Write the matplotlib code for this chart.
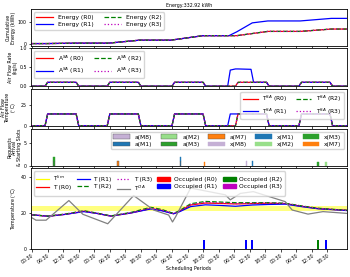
import matplotlib
matplotlib.use("Agg")
import matplotlib.pyplot as plt
from matplotlib.lines import Line2D
from matplotlib.patches import Patch

# ---- data (hours from start) ----
e_t = [0, 5.5, 17.5, 29.5, 41.5, 53.5, 66, 76, 79, 85, 91, 103.5, 115.5, 121.5]
energy_r0 = [0, 0, 2, 2, 16, 16, 37, 37, 37, 47, 57, 57, 68, 68]
energy_r1 = [0, 0, 2, 2, 16, 16, 37, 37, 55, 97, 106, 106, 118, 118]
energy_r2 = [0, 0, 2, 2, 16, 16, 37, 37, 37, 47, 57, 57, 68, 68]
energy_r3 = [0, 0, 2, 2, 16, 16, 37, 37, 37, 47, 57, 57, 68, 68]

s_t = [0, 5, 6, 17, 18, 29, 30, 41, 42, 54, 55, 66, 67, 75.5, 76.5, 78.5, 79.5,
       84.5, 85.5, 90.5, 91.5, 103, 104, 115, 116, 121.5]
flow_r0 = [0, 0, .1, .1, 0, 0, .1, .1, 0, 0, .1, .1, 0, 0, 0, 0, .1, .1, .1, .1, 0, 0, .1, .1, 0, 0]
flow_r1 = [0, 0, .1, .1, 0, 0, .1, .1, 0, 0, .1, .1, 0, 0, .42, .45, .45, .44, .1, .1, 0, 0, .1, .1, 0, 0]
flow_r2 = flow_r0
flow_r3 = flow_r0
tsa_r0 = [0, 0, 14, 14, 0, 0, 14, 14, 0, 0, 14, 14, 0, 0, 0, 0, 14, 14, 14, 14, 0, 0, 14, 14, 0, 0]
tsa_r1 = [0, 0, 14, 14, 0, 0, 14, 14, 0, 0, 14, 14, 0, 0, 14, 14, 14, 14, 14, 14, 0, 0, 14, 14, 0, 0]
tsa_r2 = tsa_r0
tsa_r3 = tsa_r0

# request bars
req_t = [8.5, 8.5, 33.1, 57.3, 57.3, 66.5, 82.7, 85.0, 110.4, 113.5]
req_lab = ["a(M3)", "x(M3)", "a(M7)", "a(M1)", "x(M1)", "x(M7)", "x(M8)", "x(M1)", "x(M3)", "x(M2)"]
req_h = [1, 1, 1, 1, 1, 0.8, 1, 1, 0.8, 0.8]
req_b = [0, 1, 0, 0, 1, 0, 0, 0, 0, 0]
req_names = ["a(M8)", "a(M1)", "a(M2)", "a(M3)", "a(M7)", "x(M8)", "x(M1)", "x(M2)", "x(M3)", "x(M7)"]
req_cols = {"M8": "#c5b0d5", "M1": "#1f77b4", "M2": "#98df8a", "M3": "#2ca02c", "M7": "#ff7f0e"}

t_t = [0, 6.2, 13, 20, 25, 30.4, 38, 45.8, 50, 54.6, 57, 61.2, 66.9, 72, 78.5, 85, 91, 97.7, 104, 110.4, 116, 121.5]
temp_r0 = [19, 18.2, 19.3, 21, 19.8, 18.3, 20, 22.5, 21.5, 19.6, 21.0, 24.5, 25.6, 25.4, 25.1, 25.3, 25.5, 25.3, 23.8, 22.5, 22, 21.5]
temp_r1 = [19, 18.2, 19.3, 20.8, 19.8, 18.3, 20, 22.3, 21.3, 19.6, 20.8, 23.6, 24.6, 24.3, 23.8, 24.5, 24.8, 25.0, 23.6, 22.4, 21.9, 21.4]
temp_r2 = [19, 18.3, 19.5, 21.3, 20, 18.4, 20.3, 23.2, 22, 19.8, 21.4, 25.2, 26.5, 26.2, 25.8, 25.8, 25.8, 25.5, 24, 22.7, 22.1, 21.6]
temp_r3 = [19, 18.2, 19.4, 21.1, 19.9, 18.3, 20.1, 22.8, 21.7, 19.7, 21.2, 24.8, 25.9, 25.7, 25.3, 25.5, 25.6, 25.4, 23.9, 22.6, 22, 21.5]
oa_t = [0, 1.5, 5.4, 14.2, 19.6, 29.2, 39.2, 46.9, 52.7, 54.2, 55.4, 61.2, 74.6, 76.5, 80.4, 85.4, 97.7, 100.4, 106.5, 112.3, 121.5]
temp_oa = [17.3, 16, 16, 27, 19.3, 14, 29.8, 21.7, 18.9, 15, 17.9, 34, 30.2, 27.4, 31, 32, 26.4, 21.7, 19.4, 20.8, 19.8]
t_lim = [21, 24]

occ_t = [66.5, 82.7, 85.0, 110.4, 113.5]
occ_room = ["R1", "R1", "R1", "R2", "R1"]
occ_h = 5
occ_cols = {"R0": "red", "R1": "blue", "R2": "green", "R3": "m"}

tick_pos = list(range(0, 120, 6))
tick_lab = ["00:30", "06:30", "12:30", "18:30"] * 5

fs = 3.4
lfs = 4.3
plt.rcParams.update({"font.size": fs, "axes.linewidth": 0.6,
                     "xtick.major.size": 1.8, "ytick.major.size": 1.8,
                     "xtick.major.width": 0.5, "ytick.major.width": 0.5,
                     "xtick.major.pad": 1, "ytick.major.pad": 1,
                     "axes.labelpad": 1.2,
                     "legend.fontsize": lfs, "legend.handlelength": 2.8,
                     "legend.columnspacing": 1.8, "legend.borderpad": 0.4,
                     "legend.labelspacing": 0.35})

fig = plt.figure(figsize=(3.5, 2.77), dpi=100)
L, R = 0.088, 0.991
ax1 = fig.add_axes([L, 0.835, R - L, 0.131])
ax2 = fig.add_axes([L, 0.689, R - L, 0.138])
ax3 = fig.add_axes([L, 0.546, R - L, 0.134])
ax4 = fig.add_axes([L, 0.402, R - L, 0.132])
ax5 = fig.add_axes([L, 0.102, R - L, 0.290])
axes = [ax1, ax2, ax3, ax4, ax5]

lw = 0.9
def four(ax, t, ys, name):
    ax.plot(t, ys[0], color="red", lw=lw, label=name + " (R0)")
    ax.plot(t, ys[1], color="blue", lw=lw, label=name + " (R1)")
    ax.plot(t, ys[2], color="green", lw=lw, ls="--", label=name + " (R2)")
    ax.plot(t, ys[3], color="m", lw=lw, ls=":", label=name + " (R3)")

four(ax1, e_t, [energy_r0, energy_r1, energy_r2, energy_r3], "Energy")
ax1.set_ylim(-10, 160)
ax1.set_yticks([0, 100])
ax1.set_ylabel("Cumulative\nEnergy (kWh)", linespacing=1.0)
ax1.legend(loc="upper left", ncol=2)
ax1.set_title("Energy:332.92 kWh", fontsize=fs, pad=2)

four(ax2, s_t, [flow_r0, flow_r1, flow_r2, flow_r3], "A$^{SA}$")
ax2.set_ylim(0, 1.0)
ax2.set_yticks([0.0, 0.5, 1.0])
ax2.set_ylabel("Air Flow Rate\n(kg/s)", linespacing=1.0)
ax2.legend(loc="upper left", ncol=2)

four(ax3, s_t, [tsa_r0, tsa_r1, tsa_r2, tsa_r3], "T$^{SA}$")
ax3.set_ylim(0, 44)
ax3.set_yticks([0, 25])
ax3.set_ylabel("Air Flow\nTemperature\n($^{\\circ}$C)", linespacing=0.95)
ax3.legend(loc="upper right", ncol=2, columnspacing=1.4, handlelength=2.5)

for t, lab, h, b in zip(req_t, req_lab, req_h, req_b):
    c = req_cols[lab[2:4]]
    ax4.bar(t, h, bottom=b, width=0.6, color=c, edgecolor="#555555" if lab[0] == "a" else c, lw=0.3)
handles = []
for n in req_names:
    c = req_cols[n[2:4]]
    handles.append(Patch(facecolor=c, edgecolor="#555555" if n[0] == "a" else c, lw=0.3, label=n))
ax4.legend(handles=handles, loc="upper right", ncol=5, columnspacing=1.4)
ax4.set_ylim(0, 8)
ax4.set_yticks([0, 5])
ax4.set_ylabel("Requests\nArrival\n& Starting Slots", linespacing=0.95)

ax5.fill_between([-0.5, 121.5], t_lim[0], t_lim[1], color="yellow", alpha=0.5, lw=0)
four(ax5, t_t, [temp_r0, temp_r1, temp_r2, temp_r3], "T")
ax5.plot(oa_t, temp_oa, color="gray", lw=lw)
for t, r in zip(occ_t, occ_room):
    ax5.bar(t, occ_h, width=0.8, color=occ_cols[r])
h5 = [Line2D([], [], color="yellow", lw=lw, label="T$^{lim}$"),
      Line2D([], [], color="red", lw=lw, label="T (R0)"),
      Line2D([], [], color="blue", lw=lw, label="T (R1)"),
      Line2D([], [], color="green", lw=lw, ls="--", label="T (R2)"),
      Line2D([], [], color="m", lw=lw, ls=":", label="T (R3)"),
      Line2D([], [], color="gray", lw=lw, label="T$^{OA}$")]
for r in ["R0", "R1", "R2", "R3"]:
    h5.append(Patch(color=occ_cols[r], label="Occupied (%s)" % r))
ax5.legend(handles=h5, loc="upper left", ncol=5, columnspacing=0.9, handlelength=2.2,
           handletextpad=0.6)
ax5.set_ylim(0, 45)
ax5.set_yticks([0, 20, 40])
ax5.set_ylabel("Temperature ($^{\\circ}$C)")
ax5.set_xlabel("Scheduling Periods", labelpad=1)

for ax in axes:
    ax.set_xlim(-0.5, 121.5)
    ax.set_xticks(tick_pos)
for ax in axes[:-1]:
    ax.set_xticklabels([])
ax5.set_xticklabels(tick_lab, rotation=35, ha="right", rotation_mode="anchor")
fig.align_ylabels(axes)

fig.savefig("out.png", dpi=100)
